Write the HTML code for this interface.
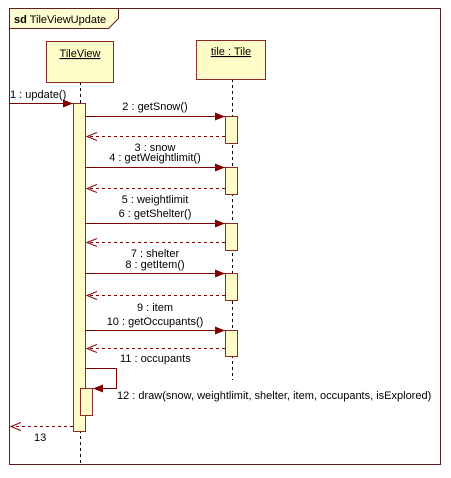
<!DOCTYPE html>
<html><head><style>
body{margin:0;background:#fff}
svg{display:block}
text{font-family:"Liberation Sans",sans-serif;font-size:11px;fill:#000}
</style></head><body>
<svg width="451" height="478" viewBox="0 0 451 478" xmlns="http://www.w3.org/2000/svg">
<defs>
<marker id="f" markerWidth="10" markerHeight="8" refX="10" refY="4" orient="auto" markerUnits="userSpaceOnUse"><path d="M0,0 L10,4 L0,8 Z" fill="#800000"/></marker>
<marker id="o" markerWidth="11" markerHeight="10" refX="10" refY="5" orient="auto" markerUnits="userSpaceOnUse"><path d="M0,1 L10,5 L0,9" fill="none" stroke="#800000" stroke-width="1"/></marker>
</defs>
<rect x="9.5" y="8.5" width="431" height="456" fill="#fff" stroke="#5a1e1e"/>
<path d="M10,9 H118 V18 L108,28 H10Z" fill="#fffcd0"/>
<path d="M9.5,28.5 H108.5 L118.5,18.5 V8.5" fill="none" stroke="#5a1e1e"/>
<text x="14" y="23"><tspan font-weight="bold">sd</tspan> TileViewUpdate</text>
<line x1="80.5" y1="82" x2="80.5" y2="464" stroke="#000" stroke-dasharray="3,3"/>
<line x1="232.5" y1="79" x2="232.5" y2="380" stroke="#000" stroke-dasharray="3,3"/>
<rect x="46.5" y="41.5" width="67" height="41" fill="#fffcc8" stroke="#8b2a2a"/>
<text x="80" y="57" text-anchor="middle" text-decoration="underline">TileView</text>
<rect x="196.5" y="40.5" width="69" height="39" fill="#fffcc8" stroke="#8b2a2a"/>
<text x="231" y="55" text-anchor="middle" text-decoration="underline">tile : Tile</text>
<rect x="73.5" y="103.5" width="12" height="328" fill="#fffcc8" stroke="#8b2a2a"/>
<g fill="#fffcc8" stroke="#8b2a2a">
<rect x="225.5" y="116.5" width="12" height="27"/>
<rect x="225.5" y="167.5" width="12" height="27"/>
<rect x="225.5" y="223.5" width="12" height="27"/>
<rect x="225.5" y="273.5" width="12" height="27"/>
<rect x="225.5" y="330.5" width="12" height="26"/>
<rect x="80.5" y="388.5" width="12" height="27"/>
</g>
<g stroke="#800000" fill="none">
<line x1="10" y1="103.5" x2="73" y2="103.5" marker-end="url(#f)"/>
<line x1="86" y1="116.5" x2="225" y2="116.5" marker-end="url(#f)"/>
<line x1="225" y1="136.5" x2="87" y2="136.5" stroke-dasharray="3,3" marker-end="url(#o)"/>
<line x1="86" y1="167.5" x2="225" y2="167.5" marker-end="url(#f)"/>
<line x1="225" y1="188.5" x2="87" y2="188.5" stroke-dasharray="3,3" marker-end="url(#o)"/>
<line x1="86" y1="223.5" x2="225" y2="223.5" marker-end="url(#f)"/>
<line x1="225" y1="242.5" x2="87" y2="242.5" stroke-dasharray="3,3" marker-end="url(#o)"/>
<line x1="86" y1="273.5" x2="225" y2="273.5" marker-end="url(#f)"/>
<line x1="225" y1="295.5" x2="87" y2="295.5" stroke-dasharray="3,3" marker-end="url(#o)"/>
<line x1="86" y1="330.5" x2="225" y2="330.5" marker-end="url(#f)"/>
<line x1="225" y1="348.5" x2="87" y2="348.5" stroke-dasharray="3,3" marker-end="url(#o)"/>
<path d="M86,368.5 H116.5 V388.5 H93" marker-end="url(#f)"/>
<line x1="73" y1="426.5" x2="11" y2="426.5" stroke-dasharray="3,3" marker-end="url(#o)"/>
</g>
<text x="10" y="98">1 : update()</text>
<text x="155" y="110" text-anchor="middle">2 : getSnow()</text>
<text x="155" y="151" text-anchor="middle">3 : snow</text>
<text x="155" y="161" text-anchor="middle">4 : getWeightlimit()</text>
<text x="155" y="203" text-anchor="middle">5 : weightlimit</text>
<text x="155" y="217" text-anchor="middle">6 : getShelter()</text>
<text x="155" y="257" text-anchor="middle">7 : shelter</text>
<text x="155" y="268" text-anchor="middle">8 : getItem()</text>
<text x="155" y="311" text-anchor="middle">9 : item</text>
<text x="155" y="325" text-anchor="middle">10 : getOccupants()</text>
<text x="120" y="362">11 : occupants</text>
<text x="117" y="399">12 : draw(snow, weightlimit, shelter, item, occupants, isExplored)</text>
<text x="34" y="441">13</text>
</svg>
</body></html>
